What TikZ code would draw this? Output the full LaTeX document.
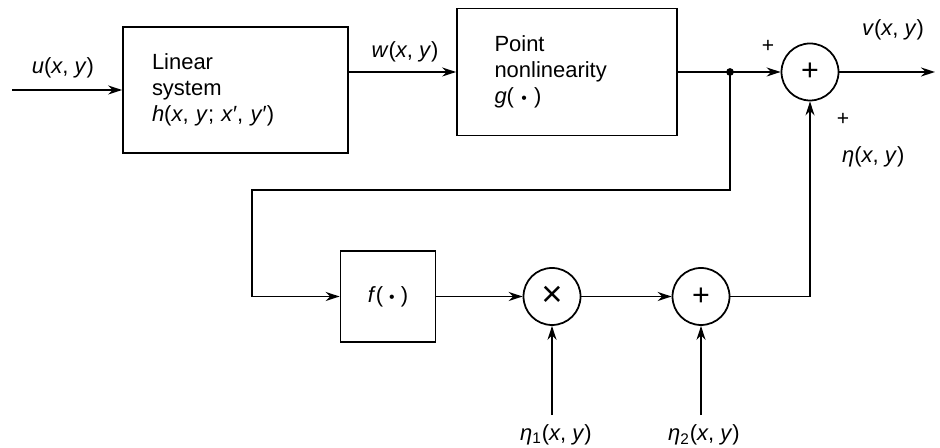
\documentclass[tikz,border=0pt]{standalone}
\usepackage{fontspec}
\setmainfont{Liberation Sans}
\usetikzlibrary{arrows.meta,calc}
\newcommand{\vr}[1]{\textit{#1}}

\begin{document}
\begin{tikzpicture}[
    font=\fontsize{12.5}{14.7}\selectfont,
    box/.style={
      draw,
      line width=1pt,
      align=left,
      inner sep=0pt
    },
    sumnode/.style={
      draw,
      circle,
      line width=1pt,
      minimum size=1.14cm,
      inner sep=0pt,
      font=\LARGE
    },
    line/.style={line width=1pt},
    arrow/.style={
      -{Stealth[length=2.8mm,width=1.8mm]},
      line width=1pt
    }
  ]
  \useasboundingbox (0,0) rectangle (18.8,8.96);

  \node[box, minimum width=4.5cm, minimum height=2.52cm, text width=3.34cm] (linsys) at (4.71,7.16) {Linear\\system\\\vr{h}(\vr{x}, \vr{y}; \vr{x}′, \vr{y}′)};
  \node[box, minimum width=4.4cm, minimum height=2.54cm, text width=2.9cm] (pointnl) at (11.34,7.52) {Point\\nonlinearity\\\vr{g}( {\small\textbullet} )};
  \node[sumnode] (outsum) at (16.2,7.52) {+};
  \node[box, minimum width=1.9cm, minimum height=1.82cm, align=center] (fbox) at (7.76,3.03) {\vr{f}( {\small\textbullet} )};
  \node[sumnode, font=\huge] (mult) at (11.04,3.03) {×};
  \node[sumnode] (noisesum) at (14.02,3.03) {+};

  \coordinate (uin) at (0.24,7.16);
  \coordinate (split) at (14.6,7.52);
  \coordinate (vout) at (18.7,7.52);
  \coordinate (fbcorner) at (5.04,5.16);

  \node (ulab) at (1.26,7.6) {\vr{u}(\vr{x}, \vr{y})};
  \node (wlab) at (8.1,7.92) {\vr{w}(\vr{x}, \vr{y})};
  \node (vlab) at (17.86,8.36) {\vr{v}(\vr{x}, \vr{y})};
  \node[anchor=west] (etalab) at (16.72,5.82) {\vr{η}(\vr{x}, \vr{y})};
  \node[font=\large] (plusa) at (15.36,8.04) {+};
  \node[font=\large] (plusb) at (16.86,6.58) {+};
  \node (eta1) at (11.12,0.26) {\vr{η}\textsubscript{1}(\vr{x}, \vr{y})};
  \node (eta2) at (14.08,0.26) {\vr{η}\textsubscript{2}(\vr{x}, \vr{y})};

  \draw[arrow] (uin) -- (linsys.west);
  \draw[arrow] (linsys.east |- pointnl.west) -- (pointnl.west);
  \draw[line] (pointnl.east) -- (split);
  \draw[arrow] (split) -- (outsum.west);
  \draw[arrow] (outsum.east) -- (vout);
  \fill (split) circle (2.2pt);
  \draw[arrow] (split) |- (fbcorner) |- (fbox.west);
  \draw[arrow] (fbox.east) -- (mult.west);
  \draw[arrow] (mult.east) -- (noisesum.west);
  \draw[arrow] (noisesum.east) -| (outsum.south);
  \draw[arrow] ([yshift=2pt]mult |- eta1.north) -- (mult.south);
  \draw[arrow] ([yshift=2pt]noisesum |- eta2.north) -- (noisesum.south);

\end{tikzpicture}
\end{document}
